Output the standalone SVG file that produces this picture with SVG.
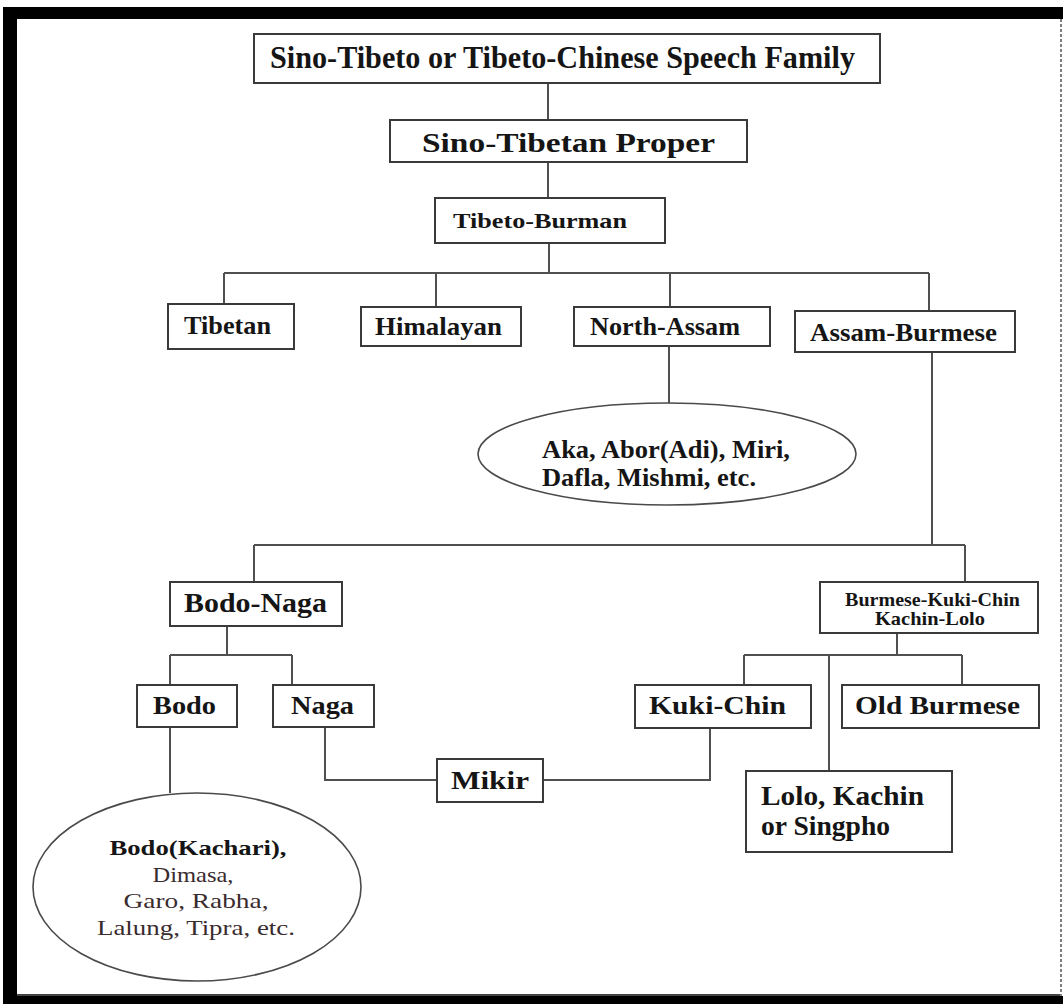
<svg xmlns="http://www.w3.org/2000/svg" width="1063" height="1004" viewBox="0 0 1063 1004">
<style>
.box{fill:#fff;stroke:#3a3a3a;stroke-width:2}
.ell{fill:#fff;stroke:#4a4a4a;stroke-width:1.6}
.t{font-family:"Liberation Serif","Times New Roman",serif;font-weight:bold;fill:#151515}
.r{font-family:"Liberation Serif","Times New Roman",serif;font-weight:normal;fill:#3a2b2e}
.c{fill:none;stroke:#505050;stroke-width:2}
</style>
<rect x="0" y="0" width="1063" height="1004" fill="#fff"/>
<g id="frame">
<rect x="3" y="7" width="1060" height="12" fill="#000"/>
<rect x="3" y="7" width="14" height="997" fill="#000"/>
<rect x="3" y="996" width="1060" height="8" fill="#000"/>
<line x1="17" y1="995" x2="1060" y2="995" stroke="#444" stroke-width="2"/>
<line x1="1061" y1="19" x2="1061" y2="996" stroke="#555" stroke-width="1.5" stroke-dasharray="3 2"/>
</g>
<g id="connectors">
<path class="c" d="M548,83 V120"/>
<path class="c" d="M548,162 V198"/>
<path class="c" d="M549,243 V273"/>
<path class="c" d="M224,273 H929"/>
<path class="c" d="M224,273 V304"/>
<path class="c" d="M436,273 V307"/>
<path class="c" d="M670,273 V307"/>
<path class="c" d="M929,273 V311"/>
<path class="c" d="M669,346 V403"/>
<path class="c" d="M932,352 V545"/>
<path class="c" d="M254,545 H965"/>
<path class="c" d="M254,545 V582"/>
<path class="c" d="M965,545 V582"/>
<path class="c" d="M227,626 V655"/>
<path class="c" d="M170,655 H292"/>
<path class="c" d="M170,655 V685"/>
<path class="c" d="M292,655 V685"/>
<path class="c" d="M170,727 V793"/>
<path class="c" d="M325,727 V780 H437"/>
<path class="c" d="M543,780 H710 V728"/>
<path class="c" d="M897,633 V655"/>
<path class="c" d="M744,655 H962"/>
<path class="c" d="M744,655 V685"/>
<path class="c" d="M962,655 V685"/>
<path class="c" d="M829,655 V771"/>
</g>
<g id="n-family">
<rect class="box" x="254" y="34" width="626" height="49"/>
<text class="t" x="270" y="68" font-size="31" textLength="585" lengthAdjust="spacingAndGlyphs">Sino-Tibeto or Tibeto-Chinese Speech Family</text>
</g>
<g id="n-proper">
<rect class="box" x="390" y="120" width="357" height="42"/>
<text class="t" x="422" y="152" font-size="27" textLength="293" lengthAdjust="spacingAndGlyphs">Sino-Tibetan Proper</text>
</g>
<g id="n-tibeto-burman">
<rect class="box" x="435" y="198" width="230" height="45"/>
<text class="t" x="453" y="228" font-size="22" textLength="174" lengthAdjust="spacingAndGlyphs">Tibeto-Burman</text>
</g>
<g id="n-tibetan">
<rect class="box" x="168" y="304" width="126" height="45"/>
<text class="t" x="184" y="334" font-size="25" textLength="87" lengthAdjust="spacingAndGlyphs">Tibetan</text>
</g>
<g id="n-himalayan">
<rect class="box" x="361" y="307" width="160" height="39"/>
<text class="t" x="375" y="335" font-size="25" textLength="127" lengthAdjust="spacingAndGlyphs">Himalayan</text>
</g>
<g id="n-north-assam">
<rect class="box" x="574" y="307" width="196" height="39"/>
<text class="t" x="590" y="335" font-size="25" textLength="150" lengthAdjust="spacingAndGlyphs">North-Assam</text>
</g>
<g id="n-assam-burmese">
<rect class="box" x="795" y="311" width="220" height="41"/>
<text class="t" x="810" y="341" font-size="25" textLength="187" lengthAdjust="spacingAndGlyphs">Assam-Burmese</text>
</g>
<g id="n-aka">
<ellipse class="ell" cx="667" cy="454" rx="189" ry="51"/>
<text class="t" x="542" y="458" font-size="26" textLength="248" lengthAdjust="spacingAndGlyphs">Aka, Abor(Adi), Miri,</text>
<text class="t" x="542" y="486" font-size="26" textLength="214" lengthAdjust="spacingAndGlyphs">Dafla, Mishmi, etc.</text>
</g>
<g id="n-bodo-naga">
<rect class="box" x="170" y="582" width="172" height="44"/>
<text class="t" x="184" y="612" font-size="27" textLength="143" lengthAdjust="spacingAndGlyphs">Bodo-Naga</text>
</g>
<g id="n-burmese-kuki">
<rect class="box" x="820" y="582" width="218" height="51"/>
<text class="t" x="845" y="606" font-size="19" textLength="175" lengthAdjust="spacingAndGlyphs">Burmese-Kuki-Chin</text>
<text class="t" x="875" y="625" font-size="19" textLength="110" lengthAdjust="spacingAndGlyphs">Kachin-Lolo</text>
</g>
<g id="n-bodo">
<rect class="box" x="137" y="685" width="100" height="42"/>
<text class="t" x="153" y="714" font-size="26" textLength="63" lengthAdjust="spacingAndGlyphs">Bodo</text>
</g>
<g id="n-naga">
<rect class="box" x="273" y="685" width="101" height="42"/>
<text class="t" x="291" y="714" font-size="26" textLength="63" lengthAdjust="spacingAndGlyphs">Naga</text>
</g>
<g id="n-kuki-chin">
<rect class="box" x="635" y="685" width="176" height="43"/>
<text class="t" x="649" y="714" font-size="26" textLength="137" lengthAdjust="spacingAndGlyphs">Kuki-Chin</text>
</g>
<g id="n-old-burmese">
<rect class="box" x="842" y="685" width="197" height="43"/>
<text class="t" x="855" y="714" font-size="26" textLength="165" lengthAdjust="spacingAndGlyphs">Old Burmese</text>
</g>
<g id="n-mikir">
<rect class="box" x="437" y="759" width="106" height="43"/>
<text class="t" x="451" y="789" font-size="26" textLength="78" lengthAdjust="spacingAndGlyphs">Mikir</text>
</g>
<g id="n-lolo">
<rect class="box" x="746" y="771" width="206" height="81"/>
<text class="t" x="761" y="805" font-size="27" textLength="163" lengthAdjust="spacingAndGlyphs">Lolo, Kachin</text>
<text class="t" x="761" y="835" font-size="27" textLength="129" lengthAdjust="spacingAndGlyphs">or Singpho</text>
</g>
<g id="n-bodo-list">
<ellipse class="ell" cx="197" cy="887" rx="164" ry="94"/>
<text class="t" x="198" y="855" font-size="22" text-anchor="middle" textLength="177" lengthAdjust="spacingAndGlyphs">Bodo(Kachari),</text>
<text class="r" x="193" y="882" font-size="22" text-anchor="middle" textLength="81" lengthAdjust="spacingAndGlyphs">Dimasa,</text>
<text class="r" x="196" y="908" font-size="22" text-anchor="middle" textLength="145" lengthAdjust="spacingAndGlyphs">Garo, Rabha,</text>
<text class="r" x="196" y="935" font-size="22" text-anchor="middle" textLength="198" lengthAdjust="spacingAndGlyphs">Lalung, Tipra, etc.</text>
</g>
</svg>
